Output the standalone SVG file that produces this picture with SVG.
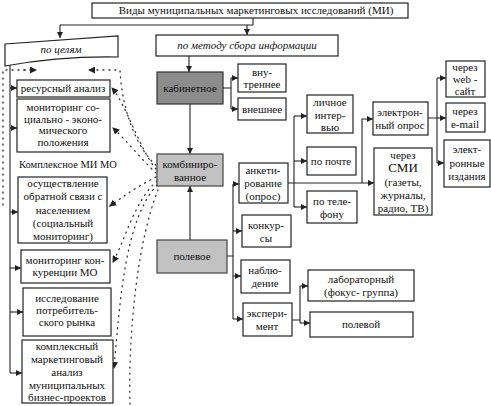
<svg xmlns="http://www.w3.org/2000/svg" width="491" height="406" viewBox="0 0 491 406" font-family="'Liberation Serif', 'Times New Roman', serif">
<style>
text{font-family:'Liberation Serif','Times New Roman',serif;font-size:11px;fill:#111;text-anchor:middle}
.it{font-style:italic}
.box{fill:#fff;stroke:#222;stroke-width:1.2}
.dark{fill:#8c8c8c;stroke:#333;stroke-width:1.2}
.light{fill:#c2c2c2;stroke:#444;stroke-width:1.2}
.ln{fill:none;stroke:#222;stroke-width:1.1}
.ar{fill:none;stroke:#222;stroke-width:1.1;marker-end:url(#a)}
.dot{fill:none;stroke:#333;stroke-width:1.3;stroke-dasharray:1 5;stroke-linecap:round}
.dotar{fill:none;stroke:#333;stroke-width:1.3;stroke-dasharray:1 5;stroke-linecap:round;marker-end:url(#d)}
</style>
<defs>
<marker id="a" markerWidth="6" markerHeight="6" refX="6" refY="3" orient="auto" markerUnits="userSpaceOnUse"><path d="M0,0 L6,3 L0,6 z" fill="#222"/></marker>
<marker id="d" markerWidth="7" markerHeight="7" refX="6" refY="3.5" orient="auto" markerUnits="userSpaceOnUse"><path d="M0,0 L7,3.5 L0,7 z" fill="#222"/></marker>
</defs>
<rect width="491" height="406" fill="#fff"/>

<g id="connectors">
<path class="ln" d="M253,17 V25 M60,25 H253"/>
<path class="ar" d="M60,25 V38"/>
<path class="ar" d="M247,25 V35"/>
<path class="ar" d="M189,56 V72"/>
<path class="ln" d="M223,88 H231 M231,78 V109"/>
<path class="ar" d="M231,78 H238"/>
<path class="ar" d="M231,109 H238"/>
<path class="ar" d="M190,104 V154"/>
<path class="ar" d="M190,240 V186"/>
<path class="ln" d="M227,256 H233 M233,184 V319"/>
<path class="ar" d="M233,184 H239"/>
<path class="ar" d="M233,231 H242"/>
<path class="ar" d="M233,276 H241"/>
<path class="ar" d="M233,319 H243"/>
<path class="ar" d="M288,183 H374"/>
<path class="ln" d="M294,116 V207"/>
<path class="ar" d="M294,116 H307"/>
<path class="ar" d="M294,161 H307"/>
<path class="ar" d="M294,207 H307"/>
<path class="ar" d="M362,183 V119 H373"/>
<path class="ln" d="M428,118 H437 M437,78 V163"/>
<path class="ar" d="M437,78 H446"/>
<path class="ar" d="M437,118 H446"/>
<path class="ar" d="M437,163 H444"/>
<path class="ln" d="M292,320 H300 M300,286 V323"/>
<path class="ar" d="M300,286 H308"/>
<path class="ar" d="M300,323 H310"/>
<path class="ln" d="M10,65 V373"/>
<path class="ar" d="M10,88 H17"/>
<path class="ar" d="M10,128 H17"/>
<path class="ar" d="M10,212 H18"/>
<path class="ar" d="M10,268 H21"/>
<path class="ar" d="M10,312 H23"/>
<path class="ar" d="M10,373 H22"/>
<path class="dot" d="M3,205 V70 H30"/>
<path class="dotar" d="M24,70 H36"/>
<path class="dotar" d="M156,165 C138,150 122,112 120,70 L89,70"/>
<path class="dotar" d="M156,169 C140,150 126,104 112,88"/>
<path class="dotar" d="M156,173 C142,160 126,140 113,128"/>
<path class="dotar" d="M156,177 C140,185 125,195 110,206"/>
<path class="dotar" d="M157,181 C135,200 125,240 113,262"/>
<path class="dotar" d="M157,185 C125,220 120,300 114,368"/>
<path class="dot" d="M158,190 C138,240 128,330 130,405"/>
</g>

<g id="title"><rect class="box" x="92" y="3" width="316" height="15"/><text x="256" y="14">Виды муниципальных маркетинговых исследований (МИ)</text></g>

<g id="po-celyam"><path class="box" d="M5,44 L118,36 L118,57 Q60,56 5,66 Z"/><text class="it" x="61" y="53">по целям</text></g>
<g id="po-metodu"><rect class="box" x="156" y="35" width="182" height="21"/><text class="it" x="247" y="49">по методу сбора информации</text></g>

<g id="resursny"><rect class="box" x="17" y="80" width="93" height="17"/><text x="63" y="92">ресурсный анализ</text></g>
<g id="monitoring-soc"><rect class="box" x="17" y="99" width="93" height="53"/><text x="63" y="111">мониторинг со-</text><text x="63" y="122.5">циально - эконо-</text><text x="63" y="134">мического</text><text x="63" y="146">положения</text></g>
<g id="kompleksnoe-label"><text x="68" y="168" style="font-size:10.5px">Комплексное МИ МО</text></g>
<g id="obratnaya-svyaz"><rect class="box" x="18" y="177" width="89" height="66"/><text x="63" y="187">осуществление</text><text x="63" y="200">обратной связи с</text><text x="63" y="214">населением</text><text x="63" y="227">(социальный</text><text x="63" y="240">мониторинг)</text></g>
<g id="monitoring-konk"><rect class="box" x="21" y="250" width="89" height="33"/><text x="65" y="264">мониторинг  кон-</text><text x="65" y="276">куренции  МО</text></g>
<g id="issledovanie"><rect class="box" x="23" y="288" width="88" height="48"/><text x="67" y="302">исследование</text><text x="67" y="314">потребитель-</text><text x="67" y="326">ского рынка</text></g>
<g id="kompleksny"><rect class="box" x="22" y="340" width="91" height="63"/><text x="67" y="350">комплексный</text><text x="67" y="363">маркетинговый</text><text x="67" y="376">анализ</text><text x="67" y="389">муниципальных</text><text x="67" y="401">бизнес-проектов</text></g>

<g id="kabinetnoe"><rect class="dark" x="157" y="72" width="66" height="32"/><text x="190" y="92">кабинетное</text></g>
<g id="vnutrennee"><rect class="box" x="238" y="64" width="48" height="28"/><text x="262" y="76">вну-</text><text x="262" y="88">треннее</text></g>
<g id="vneshnee"><rect class="box" x="238" y="98" width="48" height="22"/><text x="262" y="113">внешнее</text></g>
<g id="kombinirovannoe"><rect class="light" x="157" y="154" width="66" height="32"/><text x="190" y="168">комбиниро-</text><text x="190" y="181">ванное</text></g>
<g id="polevoe"><rect class="light" x="157" y="240" width="70" height="33"/><text x="192" y="260">полевое</text></g>

<g id="anketirovanie"><rect class="box" x="239" y="163" width="49" height="40"/><text x="263" y="174">анкети-</text><text x="263" y="187">рование</text><text x="263" y="200">(опрос)</text></g>
<g id="konkursy"><rect class="box" x="242" y="215" width="49" height="32"/><text x="266" y="229">конкур-</text><text x="266" y="242">сы</text></g>
<g id="nablyudenie"><rect class="box" x="241" y="260" width="49" height="33"/><text x="265" y="274">наблю-</text><text x="265" y="287">дение</text></g>
<g id="eksperiment"><rect class="box" x="243" y="303" width="49" height="33"/><text x="267" y="317">экспери-</text><text x="267" y="330">мент</text></g>
<g id="laboratorny"><rect class="box" x="308" y="270" width="106" height="31"/><text x="361" y="283">лабораторный</text><text x="361" y="296">(фокус- группа)</text></g>
<g id="polevoy"><rect class="box" x="310" y="312" width="103" height="25"/><text x="361" y="328">полевой</text></g>

<g id="lichnoe"><rect class="box" x="307" y="95" width="46" height="38"/><text x="330" y="106">личное</text><text x="330" y="119">интер-</text><text x="330" y="131">вью</text></g>
<g id="po-pochte"><rect class="box" x="307" y="147" width="49" height="28"/><text x="331" y="165">по почте</text></g>
<g id="po-telefonu"><rect class="box" x="307" y="191" width="50" height="32"/><text x="332" y="205">по теле-</text><text x="332" y="218">фону</text></g>
<g id="elektronny-opros"><rect class="box" x="373" y="102" width="55" height="33"/><text x="400" y="116">электрон-</text><text x="400" y="129">ный опрос</text></g>
<g id="smi"><rect class="box" x="374" y="148" width="58" height="67"/><text x="403" y="159">через</text><text x="403" y="172" style="font-size:13px">СМИ</text><text x="403" y="186">(газеты,</text><text x="403" y="199">журналы,</text><text x="403" y="212">радио, ТВ)</text></g>
<g id="web"><rect class="box" x="446" y="61" width="39" height="36"/><text x="465" y="71">через</text><text x="465" y="83">web -</text><text x="465" y="95">сайт</text></g>
<g id="email"><rect class="box" x="446" y="103" width="39" height="29"/><text x="465" y="115">через</text><text x="465" y="128">e-mail</text></g>
<g id="izdaniya"><rect class="box" x="444" y="140" width="46" height="47"/><text x="467" y="153">элект-</text><text x="467" y="167">ронные</text><text x="467" y="180">издания</text></g>
</svg>
